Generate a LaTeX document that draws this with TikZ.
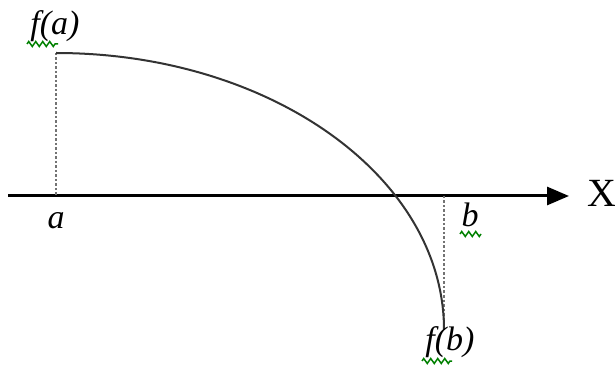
\documentclass[tikz,border=0pt]{standalone}
\usepackage{fontspec}
\setmainfont{Liberation Serif}
\usetikzlibrary{arrows.meta, positioning, decorations.pathmorphing}

\begin{document}
\begin{tikzpicture}[
        x=1pt, y=1pt,
        >={Triangle[length=22pt, width=18pt]},
        axis/.style={line width=3pt},
        graph/.style={line width=2pt, black!80},
        guide/.style={line width=2.4pt, black!55, dash pattern=on 2.5pt off 2pt},
        lbl/.style={font=\fontsize{34}{34}\selectfont\itshape, inner sep=0pt},
        axlbl/.style={font=\fontsize{40}{40}\selectfont, inner sep=0pt},
        squig/.style={green!50!black, line width=1.5pt, decorate,
            decoration={zigzag, segment length=7pt, amplitude=2.5pt}}
    ]
        \useasboundingbox (0,0) rectangle (615,364);
        % --- Ось ---
        \coordinate (xstart) at (8,168);
        \coordinate (xend) at (569,168);
        \draw[axis,->] (xstart) -- (xend);
        \node[axlbl] (xlbl) at (602,171) {X};
        % --- Точки a, b ---
        \coordinate (pa) at (56,311);
        \coordinate (ba) at (56,168);
        \coordinate (pb) at (444,34);
        \coordinate (bb) at (444,168);
        \draw[guide] (pa) -- (ba);
        \draw[guide] (bb) -- (pb);
        % --- Кривая (четверть эллипса) ---
        \draw[graph] (pa) arc[start angle=90, end angle=0, x radius=388, y radius=277];
        % --- Подписи ---
        \node[lbl] (fa) at (55,338) {f(a)};
        \node[lbl] (a) at (56,143) {a};
        \node[lbl] (b) at (470,149) {b};
        \node[lbl] (fb) at (450,22) {f(b)};
        % подчёркивания
        \draw[squig] (27,320) -- (58,320);
        \draw[squig] (460,130) -- (481,130);
        \draw[squig] (422,3) -- (452,3);
    \end{tikzpicture}
\end{document}
